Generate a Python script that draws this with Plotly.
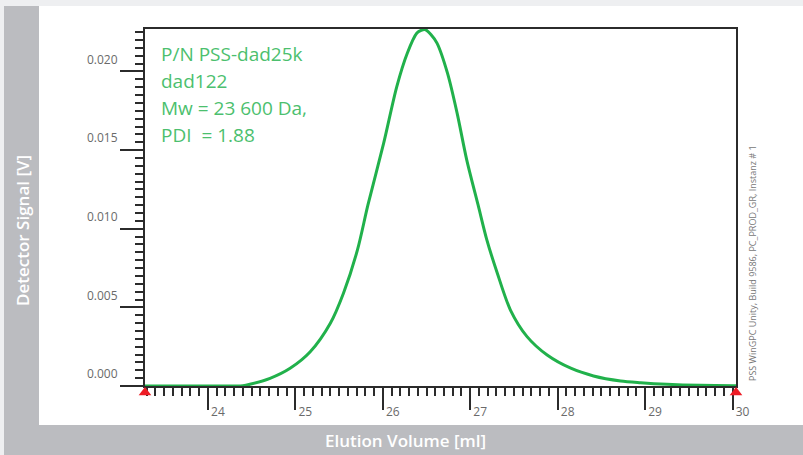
import plotly.graph_objects as go

# ---- data ----
elution_ml = [23.28, 23.90, 24.30, 24.40, 24.48, 24.71, 24.94, 25.17, 25.40, 25.55,
              25.71, 25.83, 26.01, 26.16, 26.28, 26.39, 26.44, 26.49, 26.55, 26.62,
              26.74, 26.85, 26.96, 27.09, 27.19, 27.31, 27.46, 27.65, 27.88, 28.15,
              28.41, 28.72, 28.95, 29.25, 29.63, 30.01, 30.04]
signal_v = [0.0, 0.0, 0.0, 0.00002, 0.00011, 0.00049, 0.00113, 0.00218, 0.00399, 0.00590,
            0.00865, 0.01151, 0.01544, 0.01904, 0.02116, 0.02244, 0.02262, 0.02265, 0.02235, 0.02180,
            0.01989, 0.01735, 0.01438, 0.01151, 0.00929, 0.00717, 0.00483, 0.00314, 0.00197, 0.00113,
            0.00064, 0.00032, 0.00021, 0.00011, 0.00004, 0.00002, 0.00001]

limit_ml = [23.28, 30.04]        # integration limits (red triangles)
limit_v = [0.0, 0.0]

x_range = [23.28, 30.04]
y_range = [0.0, 0.0227]
x_tickvals = [24, 25, 26, 27, 28, 29, 30]
x_ticktext = ["24", "25", "26", "27", "28", "29", "30"]
y_tickvals = [0.000, 0.005, 0.010, 0.015, 0.020]
y_ticktext = ["0.000", "0.005", "0.010", "0.015", "0.020"]

info_lines = ["P/N PSS-dad25k", "dad122", "Mw = 23 600 Da,", "PDI\u00a0 = 1.88"]
x_title = "Elution Volume [ml]"
y_title = "Detector Signal [V]"
footer = "PSS WinGPC Unity, Build 9586, PC_PROD_GR, Instanz # 1"

# ---- styling ----
W, H = 803, 455
L, R, T, B = 145, 67, 29, 69
PW, PH = W - L - R, H - T - B
FONT = "Open Sans"
AXC = "#2b2b2b"
LBL = "#6a6a6a"
BAND = "#bbbcc0"
LIGHT = "#eeeff1"
LINE_GREEN = "#21b14b"
TEXT_GREEN = "#4cbf6e"


def px(xp):
    return (xp - L) / PW


def py(yp):
    return (H - B - yp) / PH


fig = go.Figure()
fig.add_trace(go.Scatter(x=elution_ml, y=signal_v, mode="lines",
                         line=dict(color=LINE_GREEN, width=3, shape="spline", smoothing=0.8),
                         hoverinfo="skip", showlegend=False))
fig.add_trace(go.Scatter(x=limit_ml, y=limit_v, mode="markers",
                         marker=dict(symbol="triangle-up", size=11, color="#ee1c25",
                                     angle=0, standoff=6.5),
                         cliponaxis=False, hoverinfo="skip", showlegend=False))

tickfont = dict(family=FONT, size=12, color=LBL)

fig.update_layout(
    width=W, height=H,
    margin=dict(l=L, r=R, t=T, b=B, pad=0),
    paper_bgcolor=LIGHT, plot_bgcolor="white",
    showlegend=False,
    xaxis=dict(range=x_range, showgrid=False, zeroline=False,
               showline=True, linecolor=AXC, linewidth=2, mirror=True,
               ticks="outside", ticklen=22, tickwidth=1.5, tickcolor=AXC,
               tickmode="array", tickvals=x_tickvals, ticktext=x_ticktext,
               tickfont=tickfont, ticklabelshift=10, ticklabelstandoff=-8,
               minor=dict(ticks="outside", ticklen=8, tickwidth=1.5, tickcolor=AXC,
                          tick0=0, dtick=0.1, showgrid=False),
               layer="below traces", fixedrange=True),
    xaxis2=dict(range=x_range, overlaying="x", anchor="y", side="bottom",
                showgrid=False, zeroline=False, showline=False,
                ticks="outside", ticklen=16, tickwidth=1.5, tickcolor=AXC,
                tick0=0.5, dtick=1, showticklabels=False, layer="below traces"),
    yaxis=dict(range=y_range, showgrid=False, zeroline=False,
               showline=True, linecolor=AXC, linewidth=2, mirror=True,
               ticks="outside", ticklen=23, tickwidth=1.5, tickcolor=AXC,
               tickmode="array", tickvals=y_tickvals, ticktext=y_ticktext,
               tickfont=tickfont, ticklabelshift=-12, ticklabelstandoff=0,
               minor=dict(ticks="outside", ticklen=8, tickwidth=1.5, tickcolor=AXC,
                          tick0=0, dtick=0.0005, showgrid=False),
               layer="below traces", fixedrange=True),
    yaxis2=dict(range=y_range, overlaying="y", anchor="x", side="left",
                showgrid=False, zeroline=False, showline=False,
                ticks="outside", ticklen=15, tickwidth=1.5, tickcolor=AXC,
                tick0=0.0025, dtick=0.005, showticklabels=False, layer="below traces"),
)

# background panels
shapes = [
    dict(type="rect", xref="paper", yref="paper", x0=px(39), x1=px(803), y0=py(425), y1=py(6),
         fillcolor="white", line=dict(width=0), layer="below"),
    dict(type="rect", xref="paper", yref="paper", x0=px(4), x1=px(39), y0=py(455), y1=py(6),
         fillcolor=BAND, line=dict(width=0), layer="below"),
    dict(type="rect", xref="paper", yref="paper", x0=px(4), x1=px(803), y0=py(455), y1=py(425),
         fillcolor=BAND, line=dict(width=0), layer="below"),
]
fig.update_layout(shapes=shapes)

line_centres = [54, 81, 108, 135]
for txt, yc in zip(info_lines, line_centres):
    fig.add_annotation(xref="paper", yref="paper", x=px(159), y=py(yc), xanchor="left", yanchor="middle",
                       text=txt, showarrow=False, align="left",
                       font=dict(family=FONT, size=19, color=TEXT_GREEN))
fig.add_annotation(xref="paper", yref="paper", x=px(405), y=py(441), xanchor="center", yanchor="middle",
                   text=x_title, showarrow=False,
                   font=dict(family=FONT, size=17, color="white", weight=600))
fig.add_annotation(xref="paper", yref="paper", x=px(22), y=py(230), xanchor="center", yanchor="middle",
                   text=y_title, showarrow=False, textangle=-90,
                   font=dict(family=FONT, size=17, color="white", weight=600))
fig.add_annotation(xref="paper", yref="paper", x=px(752), y=py(263), xanchor="center", yanchor="middle",
                   text=footer, showarrow=False, textangle=-90,
                   font=dict(family=FONT, size=9, color="#777777"))

fig.write_html("out.html", config={"displayModeBar": False},
               post_script="document.body.style.margin='0';document.body.style.overflow='hidden';")
